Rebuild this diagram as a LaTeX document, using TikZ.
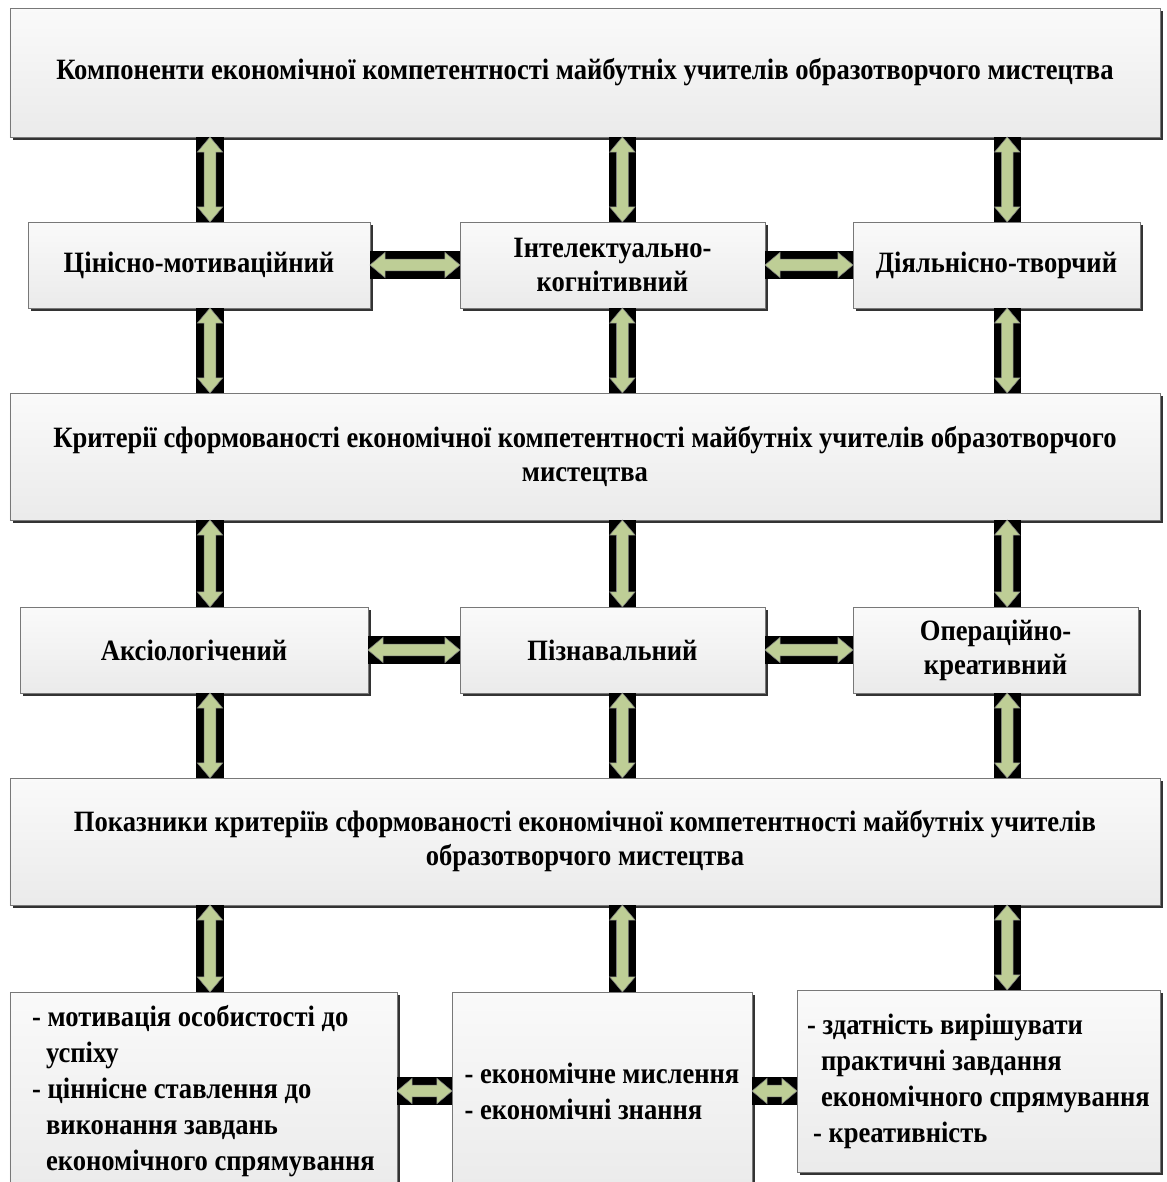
\documentclass[tikz,border=0pt]{standalone}
\usepackage{fontspec}
\setmainfont{Liberation Serif}[FakeStretch=0.9]
\usetikzlibrary{shapes.arrows,shadows}
\definecolor{olivearrow}{RGB}{190,206,150}
\definecolor{panelrim}{RGB}{120,120,120}
\tikzset{
  panel/.style={rectangle, draw=panelrim, line width=0.6pt, top color=black!2, bottom color=black!8, inner sep=0pt, align=center, font=\fontsize{21}{24.2}\selectfont\bfseries, drop shadow={shadow xshift=0.07cm, shadow yshift=-0.07cm, fill=black!80, opacity=1}},
  listpanel/.style={panel, align=left, font=\fontsize{21}{25.6}\selectfont\bfseries},
  band/.style={line width=0.68cm, black},
  duo/.style={double arrow, fill=olivearrow, draw=black!50, line width=0.4pt, inner xsep=0pt, inner ysep=0.14cm, minimum width=0.62cm, double arrow head extend=0.17cm, double arrow tip angle=80, minimum height=#1},
}
\begin{document}
\begin{tikzpicture}
  \useasboundingbox (0,0) rectangle (29.175,-29.55);
  \clip (0,0) rectangle (29.175,-29.55);
  \fill[white] (0,0) rectangle (29.175,-29.55);
  % columns of the vertical arrows
  \coordinate (colA) at (5.25,0);
  \coordinate (colB) at (15.56,0);
  \coordinate (colC) at (25.18,0);

  % components
  \node[panel, minimum width=28.75cm, minimum height=3.225cm] (comp) at (14.625,-1.8125)
    {Компоненти економічної компетентності майбутніх учителів образотворчого мистецтва};
  \node[panel, minimum width=8.55cm, minimum height=2.15cm] (c1) at (4.975,-6.625) {Цінісно-мотиваційний};
  \node[panel, minimum width=7.625cm, minimum height=2.15cm] (c2) at (15.3125,-6.625) {Інтелектуально-\\когнітивний};
  \node[panel, minimum width=7.175cm, minimum height=2.15cm] (c3) at (24.9125,-6.625) {Діяльнісно-творчий};

  % criteria
  \node[panel, minimum width=28.75cm, minimum height=3.175cm] (crit) at (14.625,-11.4125)
    {Критерії сформованості економічної компетентності майбутніх учителів образотворчого\\мистецтва};
  \node[panel, minimum width=8.7cm, minimum height=2.15cm] (k1) at (4.85,-16.25) {Аксіологічений};
  \node[panel, minimum width=7.625cm, minimum height=2.15cm] (k2) at (15.3125,-16.25) {Пізнавальний};
  \node[panel, minimum width=7.125cm, minimum height=2.15cm] (k3) at (24.8875,-16.25) {Операційно-\\креативний};

  % indicators
  \node[panel, minimum width=28.75cm, minimum height=3.175cm] (ind) at (14.625,-21.0375)
    {Показники критеріїв сформованості економічної компетентності майбутніх учителів\\образотворчого мистецтва};
  \node[listpanel, minimum width=9.675cm, minimum height=4.95cm] (p1) at (5.0875,-27.275)
    {- мотивація особистості до\\\hspace*{0.35cm}успіху\\- ціннісне ставлення до\\\hspace*{0.35cm}виконання завдань\\\hspace*{0.35cm}економічного спрямування};
  \node[listpanel, minimum width=7.5cm, minimum height=4.95cm] (p2) at (15.05,-27.275)
    {- економічне мислення\\- економічні знання};
  \node[listpanel, minimum width=9.075cm, minimum height=4.55cm] (p3) at (24.4625,-27.025)
    {- здатність вирішувати\\\hspace*{0.35cm}практичні завдання\\\hspace*{0.35cm}економічного спрямування\\\hspace*{0.15cm}- креативність};

  % vertical links
  \draw[band] (comp.south -| colA) -- (c1.north -| colA) node[midway, sloped, duo=2.125cm] {};
  \draw[band] (comp.south -| colB) -- (c2.north -| colB) node[midway, sloped, duo=2.125cm] {};
  \draw[band] (comp.south -| colC) -- (c3.north -| colC) node[midway, sloped, duo=2.125cm] {};
  \draw[band] (c1.south -| colA) -- (crit.north -| colA) node[midway, sloped, duo=2.125cm] {};
  \draw[band] (c2.south -| colB) -- (crit.north -| colB) node[midway, sloped, duo=2.125cm] {};
  \draw[band] (c3.south -| colC) -- (crit.north -| colC) node[midway, sloped, duo=2.125cm] {};
  \draw[band] (crit.south -| colA) -- (k1.north -| colA) node[midway, sloped, duo=2.175cm] {};
  \draw[band] (crit.south -| colB) -- (k2.north -| colB) node[midway, sloped, duo=2.175cm] {};
  \draw[band] (crit.south -| colC) -- (k3.north -| colC) node[midway, sloped, duo=2.175cm] {};
  \draw[band] (k1.south -| colA) -- (ind.north -| colA) node[midway, sloped, duo=2.125cm] {};
  \draw[band] (k2.south -| colB) -- (ind.north -| colB) node[midway, sloped, duo=2.125cm] {};
  \draw[band] (k3.south -| colC) -- (ind.north -| colC) node[midway, sloped, duo=2.125cm] {};
  \draw[band] (ind.south -| colA) -- (p1.north -| colA) node[midway, sloped, duo=2.175cm] {};
  \draw[band] (ind.south -| colB) -- (p2.north -| colB) node[midway, sloped, duo=2.175cm] {};
  \draw[band] (ind.south -| colC) -- (p3.north -| colC) node[midway, sloped, duo=2.125cm] {};

  % horizontal links
  \draw[band] (c1.east) -- (c2.west) node[midway, duo=2.25cm] {};
  \draw[band] (c2.east) -- (c3.west) node[midway, duo=2.2cm] {};
  \draw[band] (k1.east) -- (k2.west) node[midway, duo=2.3cm] {};
  \draw[band] (k2.east) -- (k3.west) node[midway, duo=2.2cm] {};
  \draw[band] (p1.east) -- (p2.west) node[midway, duo=1.375cm] {};
  \draw[band] (p2.east |- p1.east) -- (p3.west |- p1.east) node[midway, duo=1.125cm] {};
\end{tikzpicture}
\end{document}
